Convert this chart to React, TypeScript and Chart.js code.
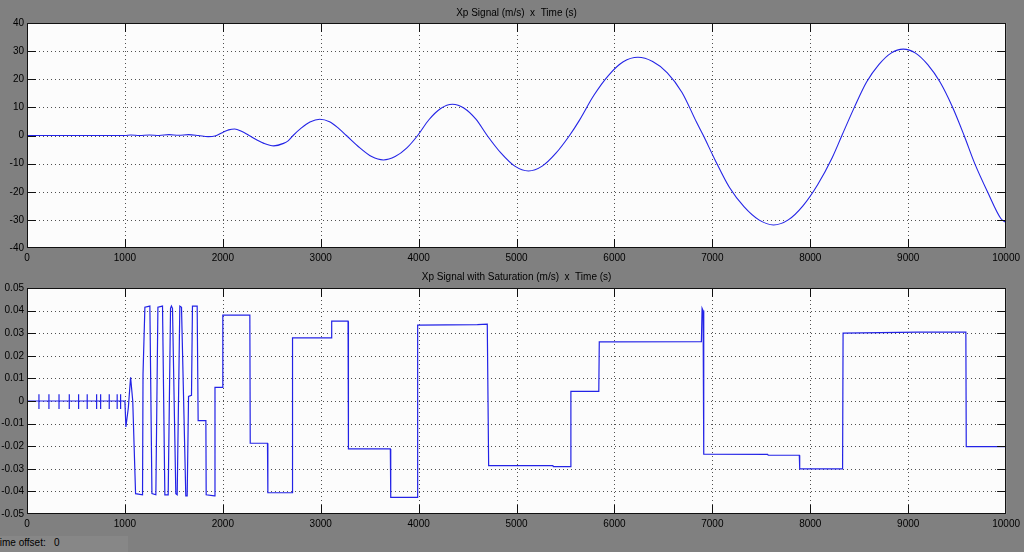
import React, { useEffect, useRef } from "react";
import { Chart, registerables } from "chart.js";
Chart.register(...registerables);

const xTicks = [0, 1000, 2000, 3000, 4000, 5000, 6000, 7000, 8000, 9000, 10000];
const topYTicks = [-40, -30, -20, -10, 0, 10, 20, 30, 40];
const botYTicks = [-0.05, -0.04, -0.03, -0.02, -0.01, 0, 0.01, 0.02, 0.03, 0.04, 0.05];
const topTitle = "Xp Signal (m/s)  x  Time (s)";
const botTitle = "Xp Signal with Saturation (m/s)  x  Time (s)";

const topTime = [0, 1000, 1060, 1150, 1250, 1350, 1450, 1550, 1650, 1750, 1850, 1920, 2000, 2060, 2122, 2190, 2268, 2340, 2420, 2520, 2620, 2670, 2718, 2800, 2890, 2990, 3090, 3180, 3262, 3400, 3520, 3640, 3760, 3880, 3990, 4105, 4225, 4345, 4465, 4585, 4700, 4842, 4982, 5122, 5262, 5402, 5541, 5640, 5790, 5940, 6090, 6240, 6390, 6540, 6690, 6840, 6908, 7025, 7175, 7325, 7475, 7625, 7775, 7925, 8075, 8225, 8323, 8450, 8575, 8700, 8825, 8950, 9075, 9200, 9325, 9450, 9571, 9680, 9810, 9946, 10000];
const topValue = [0, 0, 0.2, 0, 0.2, 0, 0.3, 0.1, 0.3, 0, -0.4, -0.2, 1.1, 2.0, 2.3, 1.5, 0, -1.4, -2.8, -3.7, -2.8, -1.8, 0, 2.6, 4.8, 5.8, 4.9, 2.6, 0, -4.4, -7.5, -8.7, -7.5, -4.4, 0, 5.6, 9.6, 11.1, 9.7, 5.8, 0, -6.3, -10.9, -12.6, -10.9, -6.3, 0, 5.3, 14.3, 21.4, 26.2, 27.8, 26.3, 22.3, 15.3, 4.6, 0, -8.5, -18.5, -25.4, -30.0, -31.8, -30.0, -25.0, -17.5, -7.8, 0, 10.0, 19.0, 25.2, 29.3, 30.7, 29.3, 25.2, 19.0, 10.3, 0, -10, -20, -29.5, -31];

const spikeTimes = [122, 224, 327, 432, 527, 615, 711, 752, 840, 921, 956];
const spikeTop = 0.003;
const spikeBottom = -0.0035;

const botTime = [0, 1000, 1010, 1035, 1058, 1080, 1109, 1180, 1185, 1204, 1255, 1276, 1316, 1337, 1384, 1408, 1442, 1466, 1475, 1486, 1520, 1534, 1561, 1578, 1622, 1636, 1650, 1680, 1690, 1738, 1748, 1827, 1830, 1915, 1920, 1997, 2000, 2276, 2280, 2456, 2460, 2707, 2712, 3109, 3112, 3279, 3283, 3711, 3715, 3986, 3990, 4600, 4701, 4715, 5371, 5375, 5551, 5555, 5840, 5845, 6888, 6895, 6905, 6912, 7565, 7570, 7888, 7892, 8330, 8335, 9100, 9589, 9593, 9997, 10000];
const botValue = [0, 0, -0.0115, -0.003, 0.0105, 0.0, -0.041, -0.0415, 0.012, 0.0415, 0.042, -0.041, -0.0415, 0.0415, 0.042, -0.0415, -0.0415, 0.041, 0.042, 0.041, -0.041, -0.0415, 0.042, 0.0415, -0.042, -0.042, 0.002, 0.0025, 0.042, 0.042, -0.0087, -0.0087, -0.0415, -0.042, 0.006, 0.006, 0.038, 0.038, -0.0187, -0.0187, -0.0406, -0.0406, 0.0279, 0.0279, 0.0353, 0.0353, -0.0212, -0.0212, -0.0426, -0.0426, 0.0336, 0.0338, 0.034, -0.0286, -0.0286, -0.029, -0.029, 0.0043, 0.0043, 0.0262, 0.0263, 0.041, 0.040, -0.0235, -0.0236, -0.024, -0.024, -0.030, -0.030, 0.030, 0.0305, 0.0305, -0.0202, -0.0202, -0.046];

const FONT = "'Liberation Sans', Arial, sans-serif";
const LINE = "rgb(35,35,230)";

const matlabAxes = {
  id: "matlabAxes",
  beforeDraw(chart: any) {
    const { ctx, chartArea: a } = chart;
    ctx.save();
    ctx.fillStyle = "#fcfcfc";
    ctx.fillRect(a.left, a.top, a.right - a.left, a.bottom - a.top);
    ctx.restore();
  },
  beforeDatasetsDraw(chart: any) {
    const { ctx, chartArea: a, scales } = chart;
    const xs = scales.x, ys = scales.y;
    const xv: number[] = chart.options.plugins.matlabAxes.xTicks;
    const yv: number[] = chart.options.plugins.matlabAxes.yTicks;
    ctx.save();
    ctx.strokeStyle = "#505050";
    ctx.lineWidth = 1;
    ctx.setLineDash([1, 3]);
    xv.slice(1, -1).forEach((v) => {
      const px = Math.round(xs.getPixelForValue(v)) + 0.5;
      ctx.beginPath();
      ctx.moveTo(px, a.top);
      ctx.lineTo(px, a.bottom);
      ctx.stroke();
    });
    yv.slice(1, -1).forEach((v) => {
      const py = Math.round(ys.getPixelForValue(v)) + 0.5;
      ctx.beginPath();
      ctx.moveTo(a.left, py);
      ctx.lineTo(a.right, py);
      ctx.stroke();
    });
    ctx.restore();
  },
  afterDatasetsDraw(chart: any) {
    const { ctx, chartArea: a, scales } = chart;
    const xs = scales.x, ys = scales.y;
    const xv: number[] = chart.options.plugins.matlabAxes.xTicks;
    const yv: number[] = chart.options.plugins.matlabAxes.yTicks;
    const L = 9;
    ctx.save();
    ctx.strokeStyle = "#111";
    ctx.lineWidth = 1;
    ctx.setLineDash([]);
    xv.slice(1, -1).forEach((v) => {
      const px = Math.round(xs.getPixelForValue(v)) + 0.5;
      ctx.beginPath();
      ctx.moveTo(px, a.top);
      ctx.lineTo(px, a.top + L);
      ctx.moveTo(px, a.bottom);
      ctx.lineTo(px, a.bottom - L);
      ctx.stroke();
    });
    yv.slice(1, -1).forEach((v) => {
      const py = Math.round(ys.getPixelForValue(v)) + 0.5;
      ctx.beginPath();
      ctx.moveTo(a.left, py);
      ctx.lineTo(a.left + L, py);
      ctx.moveTo(a.right, py);
      ctx.lineTo(a.right - L, py);
      ctx.stroke();
    });
    ctx.strokeRect(Math.round(a.left) + 0.5, Math.round(a.top) + 0.5, Math.round(a.right - a.left) - 1, Math.round(a.bottom - a.top) - 1);
    const t: string = chart.options.plugins.matlabAxes.title;
    const ty: number = chart.options.plugins.matlabAxes.titleY;
    ctx.fillStyle = "#000";
    ctx.font = `10px ${FONT}`;
    ctx.textAlign = "center";
    ctx.textBaseline = "middle";
    ctx.fillText(t, (a.left + a.right) / 2, ty);
    ctx.restore();
  },
};

function makeConfig(
  datasets: any[],
  yMin: number,
  yMax: number,
  yTicks: number[],
  fmt: (v: number) => string,
  title: string,
  titleY: number,
  padTop: number
): any {
  return {
    type: "scatter",
    data: { datasets },
    plugins: [matlabAxes],
    options: {
      animation: false,
      responsive: false,
      devicePixelRatio: 1,
      layout: { padding: { top: padTop, right: 17, left: 0, bottom: 0 } },
      plugins: {
        legend: { display: false },
        tooltip: { enabled: false },
        matlabAxes: { xTicks, yTicks, title, titleY },
      },
      elements: { point: { radius: 0 } },
      scales: {
        x: {
          type: "linear",
          min: 0,
          max: 10000,
          afterBuildTicks: (s: any) => {
            s.ticks = xTicks.map((v) => ({ value: v }));
          },
          afterFit: (s: any) => {
            s.height = 22;
          },
          grid: { display: false, drawTicks: false, tickLength: 0 },
          border: { display: false },
          ticks: {
            color: "#000",
            font: { family: FONT, size: 10 },
            padding: 4,
            maxRotation: 0,
            autoSkip: false,
            callback: (v: number) => String(v),
          },
        },
        y: {
          type: "linear",
          min: yMin,
          max: yMax,
          afterBuildTicks: (s: any) => {
            s.ticks = yTicks.map((v) => ({ value: v }));
          },
          afterFit: (s: any) => {
            s.width = 27;
          },
          grid: { display: false, drawTicks: false, tickLength: 0 },
          border: { display: false },
          ticks: {
            color: "#000",
            font: { family: FONT, size: 10 },
            padding: 3,
            autoSkip: false,
            callback: (v: number) => fmt(v),
          },
        },
      },
    },
  };
}

export default function App() {
  const topRef = useRef<HTMLCanvasElement>(null);
  const botRef = useRef<HTMLCanvasElement>(null);

  useEffect(() => {
    const topData = topTime.map((t, i) => ({ x: t, y: topValue[i] }));
    const botData = botTime.map((t, i) => ({ x: t, y: botValue[i] }));
    const spikeData: any[] = [];
    spikeTimes.forEach((t) => {
      spikeData.push({ x: t, y: spikeTop }, { x: t, y: spikeBottom }, { x: t, y: null });
    });

    const c1 = new Chart(
      topRef.current as HTMLCanvasElement,
      makeConfig(
        [
          {
            data: topData,
            showLine: true,
            borderColor: LINE,
            borderWidth: 1.1,
            pointRadius: 0,
            cubicInterpolationMode: "monotone",
          },
        ],
        -40,
        40,
        topYTicks,
        (v) => String(Math.round(v)),
        topTitle,
        13,
        23
      )
    );
    const c2 = new Chart(
      botRef.current as HTMLCanvasElement,
      makeConfig(
        [
          {
            data: botData,
            showLine: true,
            borderColor: LINE,
            borderWidth: 1.2,
            pointRadius: 0,
            tension: 0,
          },
          {
            data: spikeData,
            showLine: true,
            spanGaps: false,
            borderColor: LINE,
            borderWidth: 1.2,
            pointRadius: 0,
            tension: 0,
          },
        ],
        -0.05,
        0.05,
        botYTicks,
        (v) => (Math.abs(v) < 1e-9 ? "0" : v.toFixed(2)),
        botTitle,
        7,
        18
      )
    );
    return () => {
      c1.destroy();
      c2.destroy();
    };
  }, []);

  return (
    <div
      style={{
        position: "fixed",
        left: 0,
        top: 0,
        width: 1024,
        height: 552,
        background: "#808080",
        overflow: "hidden",
      }}
    >
      <canvas ref={topRef} width={1024} height={270} style={{ position: "absolute", left: 0, top: 0 }} />
      <canvas ref={botRef} width={1024} height={266} style={{ position: "absolute", left: 0, top: 270 }} />
      <div
        style={{
          position: "absolute",
          left: 0,
          top: 536,
          width: 128,
          height: 16,
          background: "#878787",
          overflow: "hidden",
        }}
      >
        <span
          style={{
            position: "absolute",
            left: -6,
            top: 1,
            font: `10px ${FONT}`,
            color: "#000",
            whiteSpace: "pre",
          }}
        >
          {"Time offset:   0"}
        </span>
      </div>
    </div>
  );
}
